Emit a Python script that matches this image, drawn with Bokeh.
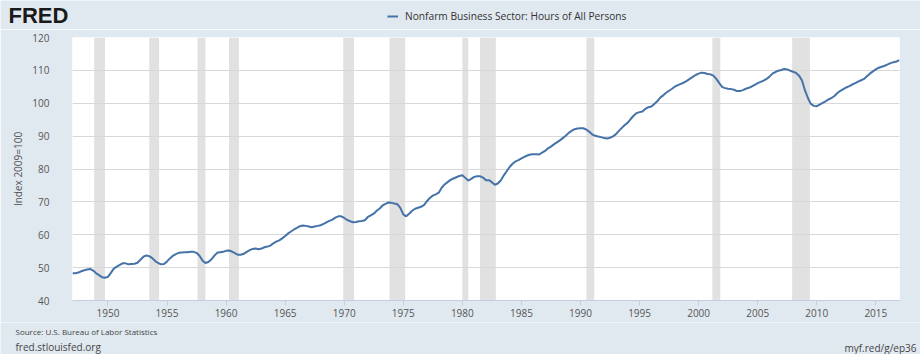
from datetime import datetime
from bokeh.plotting import figure
from bokeh.layouts import column, row
from bokeh.models import (ColumnDataSource, Range1d, FixedTicker, DatetimeTickFormatter,
                          Legend, LegendItem)
from bokeh.core.properties import value
from bokeh.embed import file_html
from bokeh.resources import INLINE

# ---------------- data ----------------
start_year = 1947
hours_index = [
    48.3, 48.3, 48.5, 48.9,   # 1947
    49.2, 49.4, 49.6, 49.1,   # 1948
    48.3, 47.7, 47.1, 46.9,   # 1949
    47.2, 48.4, 49.7, 50.3,   # 1950
    50.8, 51.3, 51.3, 51.0,   # 1951
    51.1, 51.2, 51.5, 52.4,   # 1952
    53.3, 53.7, 53.5, 52.9,   # 1953
    52.0, 51.4, 51.0, 51.1,   # 1954
    51.9, 52.8, 53.6, 54.1,   # 1955
    54.5, 54.6, 54.7, 54.7,   # 1956
    54.8, 54.8, 54.5, 53.6,   # 1957
    52.2, 51.4, 51.7, 52.5,   # 1958
    53.6, 54.5, 54.7, 54.8,   # 1959
    55.1, 55.2, 54.9, 54.4,   # 1960
    53.9, 53.9, 54.2, 54.8,   # 1961
    55.3, 55.7, 55.8, 55.6,   # 1962
    55.8, 56.2, 56.4, 56.7,   # 1963
    57.4, 57.9, 58.3, 58.9,   # 1964
    59.6, 60.4, 61.0, 61.6,   # 1965
    62.1, 62.6, 62.8, 62.7,   # 1966
    62.5, 62.3, 62.5, 62.7,   # 1967
    62.9, 63.3, 63.8, 64.2,   # 1968
    64.6, 65.2, 65.6, 65.6,   # 1969
    65.1, 64.5, 64.1, 63.8,   # 1970
    63.9, 64.1, 64.2, 64.4,   # 1971
    65.4, 65.9, 66.4, 67.3,   # 1972
    68.0, 68.9, 69.4, 69.8,   # 1973
    69.7, 69.5, 69.3, 68.2,   # 1974
    66.2, 65.6, 66.4, 67.3,   # 1975
    67.9, 68.2, 68.5, 69.0,   # 1976
    70.2, 71.2, 71.9, 72.3,   # 1977
    72.8, 74.3, 75.3, 76.0,   # 1978
    76.7, 77.1, 77.5, 77.9,   # 1979
    78.1, 77.3, 76.5, 77.0,   # 1980
    77.6, 77.8, 77.8, 77.4,   # 1981
    76.6, 76.6, 76.0, 75.2,   # 1982
    75.6, 76.5, 78.0, 79.3,   # 1983
    80.6, 81.6, 82.3, 82.7,   # 1984
    83.2, 83.7, 84.1, 84.4,   # 1985
    84.5, 84.5, 84.4, 85.0,   # 1986
    85.5, 86.3, 86.8, 87.5,   # 1987
    88.1, 88.7, 89.4, 90.1,   # 1988
    91.0, 91.6, 92.1, 92.3,   # 1989
    92.4, 92.4, 92.0, 91.3,   # 1990
    90.5, 90.1, 89.9, 89.7,   # 1991
    89.4, 89.3, 89.5, 89.9,   # 1992
    90.6, 91.6, 92.5, 93.4,   # 1993
    94.1, 95.2, 96.2, 97.0,   # 1994
    97.3, 97.5, 98.3, 98.8,   # 1995
    99.0, 99.8, 100.6, 101.7, # 1996
    102.4, 103.2, 103.8, 104.4,  # 1997
    105.1, 105.5, 105.9, 106.3,  # 1998
    106.8, 107.4, 108.0, 108.6,  # 1999
    109.0, 109.3, 109.2, 108.9,  # 2000
    108.8, 108.4, 107.4, 106.1,  # 2001
    104.9, 104.6, 104.4, 104.3,  # 2002
    104.1, 103.7, 103.7, 104.0,  # 2003
    104.4, 104.7, 105.1, 105.6,  # 2004
    106.1, 106.5, 106.9, 107.4,  # 2005
    108.1, 109.0, 109.5, 109.9,  # 2006
    110.1, 110.4, 110.3, 109.9,  # 2007
    109.6, 109.2, 108.4, 106.9,  # 2008
    103.9, 101.6, 99.8, 99.2,    # 2009
    99.1, 99.6, 100.1, 100.6,    # 2010
    101.2, 101.6, 102.2, 103.1,  # 2011
    103.8, 104.3, 104.8, 105.2,  # 2012
    105.7, 106.1, 106.6, 107.0,  # 2013
    107.4, 108.2, 109.0, 109.7,  # 2014
    110.3, 110.8, 111.1, 111.4,  # 2015
    111.8, 112.2, 112.5, 112.7,  # 2016
    113.1,                       # 2017 Q1
]

recession_starts = ["1948-11-01", "1953-07-01", "1957-08-01", "1960-04-01", "1969-12-01",
                    "1973-11-01", "1980-01-01", "1981-07-01", "1990-07-01", "2001-03-01",
                    "2007-12-01"]
recession_ends = ["1949-10-01", "1954-05-01", "1958-04-01", "1961-02-01", "1970-11-01",
                  "1975-03-01", "1980-07-01", "1982-11-01", "1991-03-01", "2001-11-01",
                  "2009-06-01"]

x_tick_years = [1950, 1955, 1960, 1965, 1970, 1975, 1980, 1985, 1990, 1995, 2000, 2005, 2010, 2015]
y_ticks = [40, 50, 60, 70, 80, 90, 100, 110, 120]

series_name = "Nonfarm Business Sector: Hours of All Persons"
y_label = "Index 2009=100"
logo_text = "FRED"
source_text = "Source: U.S. Bureau of Labor Statistics"
site_text = "fred.stlouisfed.org"
link_text = "myf.red/g/ep36"

# ---------------- helpers ----------------
EPOCH = datetime(1970, 1, 1)
def ms(d):
    return (d - EPOCH).total_seconds() * 1000.0

FONT = "Open Sans"
BG = "#e1e9f0"
LINE_COLOR = "#4572a7"
TXT = "#555555"
W = 920
HEAD_H, FOOT_H = 29, 32
MAIN_H = 354 - HEAD_H - FOOT_H


def blank(height):
    f = figure(width=W, height=height, output_backend="svg", toolbar_location=None,
               x_range=Range1d(0, W), y_range=Range1d(height, 0),
               min_border=0, min_border_left=0, min_border_right=0,
               min_border_top=0, min_border_bottom=0,
               x_axis_location=None, y_axis_location=None)
    f.background_fill_color = BG
    f.border_fill_color = BG
    f.outline_line_color = None
    f.grid.visible = False
    return f

# ---------------- main chart ----------------
dates = [datetime(start_year + i // 4, 1 + 3 * (i % 4), 1) for i in range(len(hours_index))]
src = ColumnDataSource(dict(date=dates, value=hours_index))

rec_src = ColumnDataSource(dict(
    left=[datetime.strptime(s, "%Y-%m-%d") for s in recession_starts],
    right=[datetime.strptime(s, "%Y-%m-%d") for s in recession_ends],
    bottom=[y_ticks[0]] * len(recession_starts),
    top=[y_ticks[-1]] * len(recession_starts),
))

p = figure(width=W, height=MAIN_H, x_axis_type="datetime",
           output_backend="svg", toolbar_location=None,
           x_range=Range1d(dates[0], dates[-1]), y_range=Range1d(y_ticks[0], y_ticks[-1]),
           min_border_left=72, min_border_right=21, min_border_top=8, min_border_bottom=22)
p.border_fill_color = BG
p.background_fill_color = "white"
p.outline_line_color = None

p.quad(left="left", right="right", bottom="bottom", top="top", source=rec_src,
       fill_color="#e1e1e1", line_color=None, level="image")

line = p.line("date", "value", source=src, line_color=LINE_COLOR, line_width=2)

p.xgrid.grid_line_color = None
p.ygrid.grid_line_color = "#d8d8d8"
p.ygrid.grid_line_width = 1
p.ygrid.ticker = FixedTicker(ticks=y_ticks)

p.yaxis.ticker = FixedTicker(ticks=y_ticks)
p.yaxis.axis_line_color = None
p.yaxis.major_tick_line_color = None
p.yaxis.minor_tick_line_color = None
p.yaxis.major_label_text_font = FONT
p.yaxis.major_label_text_font_size = "10px"
p.yaxis.major_label_text_color = TXT
p.yaxis.major_label_standoff = 17
p.yaxis.axis_label = y_label
p.yaxis.axis_label_text_font = FONT
p.yaxis.axis_label_text_font_size = "10px"
p.yaxis.axis_label_text_font_style = "normal"
p.yaxis.axis_label_text_color = TXT
p.yaxis.axis_label_standoff = 4

p.xaxis.ticker = FixedTicker(ticks=[ms(datetime(y, 1, 1)) for y in x_tick_years])
p.xaxis.formatter = DatetimeTickFormatter(years="%Y", months="%Y", days="%Y", hours="%Y",
                                          minutes="%Y", seconds="%Y", milliseconds="%Y",
                                          microseconds="%Y")
p.xaxis.axis_line_color = "#c0d0e0"
p.xaxis.major_tick_line_color = "#c0d0e0"
p.xaxis.major_tick_in = 0
p.xaxis.major_tick_out = 5
p.xaxis.minor_tick_line_color = None
p.xaxis.major_label_text_font = FONT
p.xaxis.major_label_text_font_size = "10px"
p.xaxis.major_label_text_color = TXT
p.xaxis.major_label_standoff = 3

# ---------------- header: logo + legend ----------------
head = blank(HEAD_H)
head.text(x=[8], y=[15], text=[logo_text], text_font=value("Liberation Sans"),
          text_font_size="22px", text_font_style="bold", text_color="#1a1a1a",
          text_baseline="middle")
# legend swatch renderer: same series, lying outside this strip's range
legend_line = head.line("date", "value", source=src, line_color=LINE_COLOR, line_width=2)
legend = Legend(items=[LegendItem(label=series_name, renderers=[legend_line])],
                location=(387, 6), orientation="horizontal",
                background_fill_alpha=0, border_line_color=None,
                padding=0, margin=0, spacing=0,
                glyph_width=11, glyph_height=14, label_height=14, label_standoff=7,
                label_text_font=FONT, label_text_font_size="10.2px", label_text_color="#333333")
head.add_layout(legend, "center")

# ---------------- footer ----------------
foot = blank(FOOT_H)
foot.text(x=[15], y=[9], text=[source_text], text_font=value(FONT),
          text_font_size="8px", text_color="#444444", text_baseline="middle")
foot.text(x=[15], y=[24], text=[site_text], text_font=value(FONT),
          text_font_size="10px", text_color="#444444", text_baseline="middle")
foot.text(x=[916], y=[25], text=[link_text], text_font=value(FONT),
          text_font_size="10px", text_color="#444444", text_baseline="middle",
          text_align="right")

layout = column(head, row(p), foot, spacing=0)
open("out.html", "w").write(file_html(layout, INLINE))
